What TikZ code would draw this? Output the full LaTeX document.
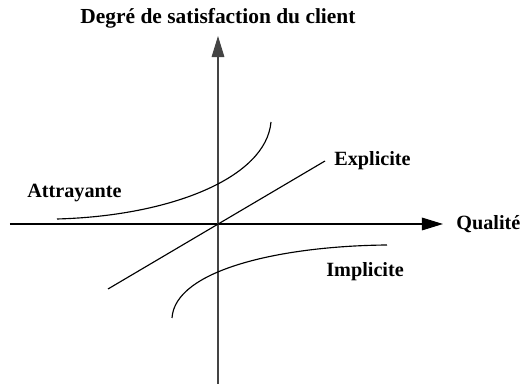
\documentclass[tikz,border=0pt]{standalone}
\usepackage{fontspec}
\setmainfont{Liberation Serif}
\usetikzlibrary{arrows.meta}
\definecolor{axisgray}{HTML}{444444}
\tikzset{
  every picture/.style={line join=round, >={Triangle[length=12pt,width=7.2pt]}},
  axis/.style={line width=0.7pt, axisgray},
  curve/.style={line width=0.65pt, black},
  lbl/.style={font=\fontsize{11.5}{13}\selectfont\bfseries, inner sep=0pt, anchor=base west},
}

\begin{document}
\begin{tikzpicture}[x=0.02cm,y=-0.02cm]
\useasboundingbox (0,0) rectangle (522,384);
\coordinate (o) at (218,224);
\coordinate (xl) at (10,224);
\coordinate (xr) at (443,224);
\coordinate (yb) at (218,384);
\coordinate (yt) at (218,36);
\coordinate (explo) at (108,289);
\coordinate (exphi) at (325,161);
\node[lbl,anchor=base,font=\fontsize{12.2}{14}\selectfont\bfseries] (titre) at (218,24) {Degré de satisfaction du client};
\node[lbl] (qualite) at (456,230) {Qualité};
\node[lbl] (explicite) at (334,166) {Explicite};
\node[lbl] (attrayante) at (27,198) {Attrayante};
\node[lbl] (implicite) at (326,277) {Implicite};
\draw[axis,->,black] (xl) -- (xr);
\draw[axis,->] (yb) -- (yt);
\draw[curve] (explo) -- (exphi);
\draw[curve] (57,219) .. controls (170,216) and (266,178) .. (271,122);
\draw[curve] (387,245) .. controls (280,246) and (175,270) .. (172,318);
\end{tikzpicture}
\end{document}
